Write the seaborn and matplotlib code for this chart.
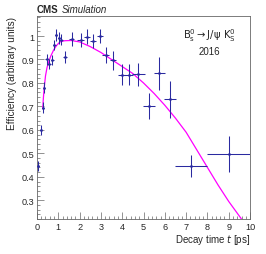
import numpy as np
import pandas as pd
import matplotlib
matplotlib.use("Agg")
import matplotlib.pyplot as plt
import seaborn as sns
from matplotlib.ticker import MultipleLocator, FuncFormatter

# efficiency points
decay_t = [0.06, 0.17, 0.27, 0.35, 0.45, 0.58, 0.72, 0.82, 0.90, 1.03, 1.15, 1.31,
           1.63, 2.05, 2.35, 2.63, 2.96, 3.22, 3.58, 3.97, 4.30, 4.76, 5.26, 5.74,
           6.24, 7.25, 9.00]
eff = [0.447, 0.600, 0.695, 0.780, 0.900, 0.880, 0.897, 0.962, 1.005, 0.993, 0.985, 0.912,
       0.986, 0.984, 0.998, 0.978, 1.000, 0.918, 0.897, 0.835, 0.835, 0.837, 0.702, 0.841,
       0.730, 0.445, 0.497]
t_err = [0.03, 0.04, 0.04, 0.04, 0.05, 0.06, 0.06, 0.05, 0.05, 0.06, 0.06, 0.1,
         0.12, 0.15, 0.15, 0.15, 0.15, 0.15, 0.15, 0.15, 0.2, 0.3, 0.27, 0.25,
         0.27, 0.75, 1.0]
eff_err = [0.022, 0.022, 0.022, 0.022, 0.022, 0.022, 0.022, 0.022, 0.025, 0.025, 0.025, 0.025,
           0.03, 0.03, 0.03, 0.03, 0.03, 0.035, 0.04, 0.045, 0.045, 0.05, 0.057, 0.07,
           0.078, 0.047, 0.078]

# fitted curve
fit_t = [0.27, 0.30, 0.34, 0.40, 0.47, 0.55, 0.65, 0.78, 0.92, 1.08, 1.30, 1.60,
         2.00, 2.50, 3.00, 3.50, 4.00, 4.50, 5.00, 5.50, 6.00, 6.50, 7.00, 7.50,
         8.00, 8.50, 9.00, 9.60]
fit_eff = [0.690, 0.735, 0.780, 0.830, 0.865, 0.890, 0.915, 0.940, 0.960, 0.975, 0.980, 0.981,
           0.975, 0.955, 0.930, 0.900, 0.870, 0.840, 0.800, 0.755, 0.705, 0.650, 0.590, 0.515,
           0.440, 0.365, 0.295, 0.220]

sns.set_style("ticks")
plt.rcParams["font.family"] = ["Liberation Sans", "DejaVu Sans"]

fig = plt.figure(figsize=(2.66, 2.55), dpi=100)
ax = fig.add_axes([0.139, 0.137, 0.801, 0.796])

fit_df = pd.DataFrame({"t": fit_t, "eff": fit_eff})
sns.lineplot(data=fit_df, x="t", y="eff", ax=ax, color="#ff00ff", lw=0.9, zorder=2)

ax.errorbar(decay_t, eff, xerr=t_err, yerr=eff_err, fmt="o", ms=1.0,
            color="#2a2aa0", ecolor="#2a2aa0", elinewidth=0.75, capsize=0, zorder=3)

ax.set_xlim(0, 10)
ax.set_ylim(0.22, 1.085)
ax.xaxis.set_major_locator(MultipleLocator(1))
ax.xaxis.set_minor_locator(MultipleLocator(0.2))
ax.yaxis.set_major_locator(MultipleLocator(0.1))
ax.yaxis.set_minor_locator(MultipleLocator(0.02))
ax.yaxis.set_major_formatter(FuncFormatter(lambda v, p: f"{v:g}"))
ax.tick_params(which="both", direction="in", labelsize=6.6, pad=2, width=0.45, color="#555555")
ax.tick_params(which="major", length=5)
ax.tick_params(which="minor", length=2.5)
for s in ax.spines.values():
    s.set_linewidth(0.6)
    s.set_color("#666666")

ax.set_xlabel("Decay time $\\mathit{t}$ [ps]", fontsize=7, loc="right", labelpad=1)
ax.set_ylabel("Efficiency (arbitrary units)", fontsize=7.2, loc="top", labelpad=3)

ax.text(0.0, 1.012, "CMS", transform=ax.transAxes, fontsize=7, fontweight="bold", va="bottom")
ax.text(0.115, 1.012, "Simulation", transform=ax.transAxes, fontsize=7, fontstyle="italic", va="bottom")
ax.text(0.81, 0.91, "$\\mathrm{B_s^0 \\rightarrow J/\\psi\\ K_S^0}$", transform=ax.transAxes,
        fontsize=7.2, ha="center", va="center")
ax.text(0.81, 0.83, "2016", transform=ax.transAxes, fontsize=7, ha="center", va="center")

fig.savefig("out.png", dpi=100)
